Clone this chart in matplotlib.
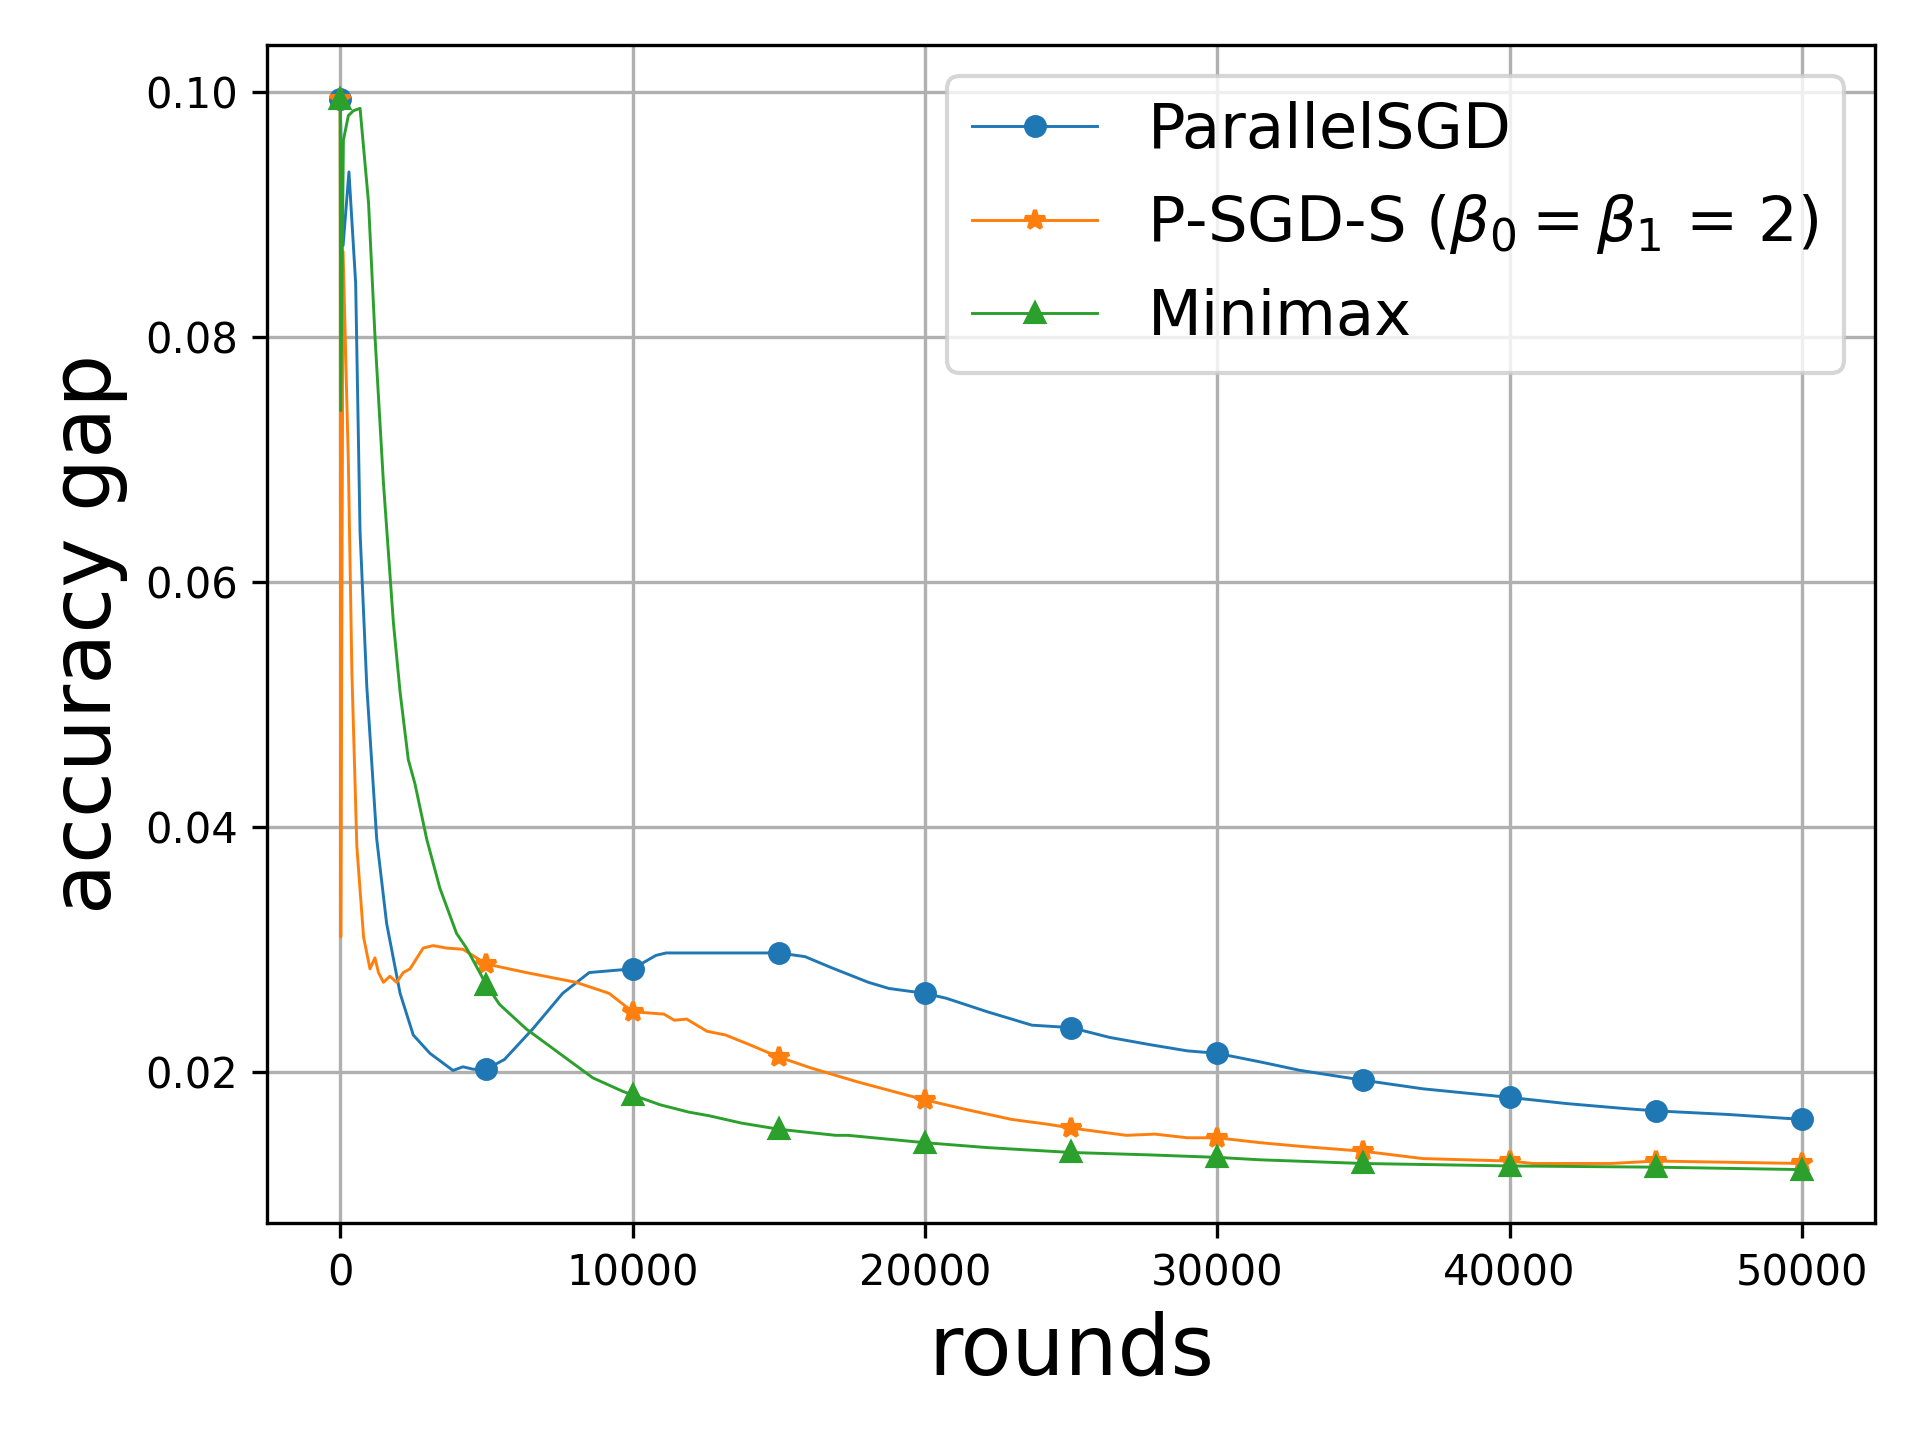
import numpy as np
import matplotlib
matplotlib.use("Agg")
import matplotlib.pyplot as plt

# values
x_psgd = [0, 100, 300, 530, 680, 910, 1250, 1590, 2050, 2500, 3070, 3860, 4200, 4550,
          5000, 5620, 6590, 7610, 8520, 10000, 10800, 11150, 15000, 15900, 16800, 18070,
          18770, 20000, 20730, 22130, 23660, 25000, 26320, 27720, 28980, 30000, 31470,
          32850, 35000, 37040, 40000, 41930, 43880, 45000, 47510, 50000]
y_psgd = [0.0995, 0.0875, 0.0935, 0.0844, 0.0641, 0.0515, 0.0390, 0.0321, 0.0264, 0.0230,
          0.0215, 0.0201, 0.0204, 0.0202, 0.0202, 0.0210, 0.0235, 0.0264, 0.0281, 0.0284,
          0.0295, 0.0297, 0.0297, 0.0294, 0.0285, 0.0273, 0.0268, 0.0264, 0.0260, 0.0249,
          0.0238, 0.0236, 0.0228, 0.0222, 0.0217, 0.0215, 0.0208, 0.0201, 0.0193, 0.0186,
          0.0179, 0.0174, 0.0170, 0.0168, 0.0165, 0.0161]

x_pss = [0, 20, 100, 280, 400, 570, 800, 1020, 1190, 1310, 1480, 1700, 1930, 2160, 2390,
         2840, 3180, 3640, 4200, 5000, 6360, 8070, 9200, 10000, 11080, 11430, 11850, 12550,
         13180, 14010, 15000, 16110, 17650, 19050, 20000, 21430, 22970, 24220, 25000,
         26890, 27870, 28980, 30000, 31470, 32850, 35000, 37040, 40000, 40810, 43460,
         45000, 47510, 50000]
y_pss = [0.0995, 0.0310, 0.0870, 0.0698, 0.0527, 0.0384, 0.0310, 0.0284, 0.0293, 0.0281,
         0.0273, 0.0278, 0.0273, 0.0281, 0.0284, 0.0301, 0.0303, 0.0301, 0.0300, 0.0288,
         0.0281, 0.0273, 0.0264, 0.0249, 0.0247, 0.0242, 0.0243, 0.0233, 0.0230, 0.0222,
         0.0212, 0.0203, 0.0192, 0.0183, 0.0177, 0.0169, 0.0161, 0.0157, 0.0154, 0.0148,
         0.0149, 0.0146, 0.0146, 0.0142, 0.0139, 0.0135, 0.0129, 0.0127, 0.0125, 0.0125,
         0.0127, 0.0126, 0.0125]

x_mm = [0, 20, 110, 280, 450, 680, 970, 1190, 1480, 1820, 2050, 2330, 2560, 2960, 3410,
        3980, 4320, 5000, 5450, 6360, 7500, 8640, 9660, 10000, 10940, 11920, 12620, 13730,
        15000, 16950, 17370, 20000, 22130, 25000, 27720, 30000, 31470, 35000, 40000,
        45000, 50000]
y_mm = [0.0995, 0.0740, 0.0961, 0.0981, 0.0985, 0.0987, 0.0910, 0.0801, 0.0681, 0.0567,
        0.0510, 0.0455, 0.0435, 0.0390, 0.0350, 0.0313, 0.0301, 0.0271, 0.0255, 0.0235,
        0.0215, 0.0195, 0.0184, 0.0181, 0.0173, 0.0167, 0.0164, 0.0158, 0.0153, 0.0148,
        0.0148, 0.0142, 0.0138, 0.0134, 0.0132, 0.0130, 0.0128, 0.0125, 0.0123, 0.0122,
        0.0120]


def marks(xs):
    # markers only every 5000 rounds
    return [i for i, v in enumerate(xs) if v % 5000 == 0]


plt.figure(figsize=(6.4, 4.8))
plt.plot(x_psgd, y_psgd, marker='o', markersize=4.5, linewidth=0.7,
         markevery=marks(x_psgd), label="ParallelSGD")
plt.plot(x_pss, y_pss, marker='*', markersize=5, linewidth=0.7,
         markevery=marks(x_pss), label=r"P-SGD-S ($\beta_0=\beta_1$ = 2)")
plt.plot(x_mm, y_mm, marker='^', markersize=4.5, linewidth=0.7,
         markevery=marks(x_mm), label="Minimax")

plt.xlabel("rounds", fontsize=20)
plt.ylabel("accuracy gap", fontsize=20)
plt.legend(fontsize=15, loc="upper right")
plt.grid(True)
plt.tight_layout()

plt.savefig("out.png", dpi=300)
plt.close()
